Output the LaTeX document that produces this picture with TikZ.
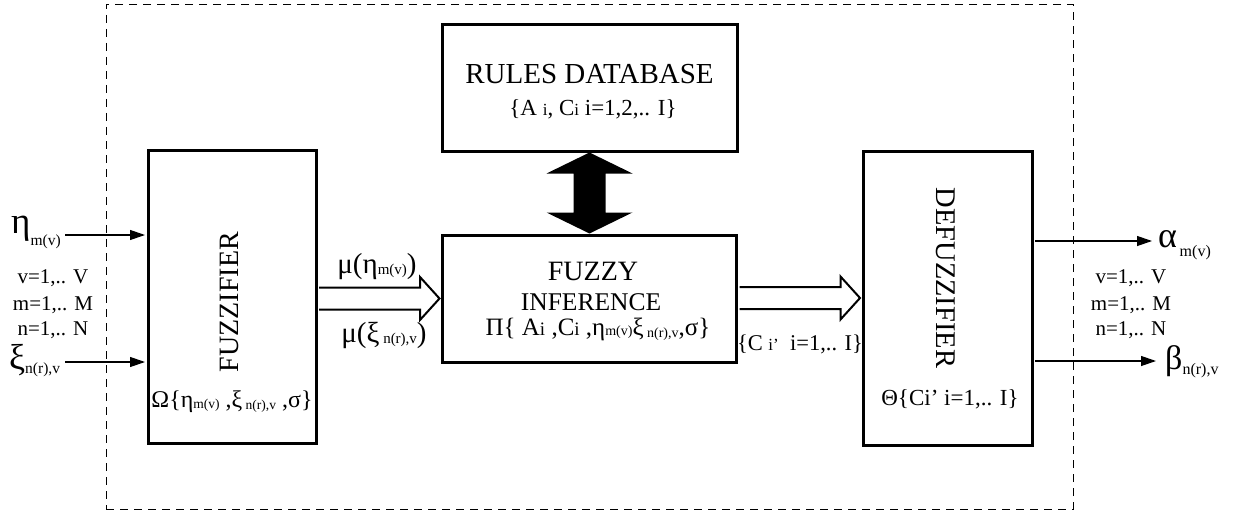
\documentclass[tikz,border=0pt]{standalone}
\usepackage{fontspec}
\setmainfont{Liberation Serif}
\usetikzlibrary{calc,arrows.meta}
\newcommand\fs[1]{\fontsize{#1}{#1}\selectfont}
\newcommand\lowsub[3]{\raisebox{-#1pt}{\fs{#2}#3}}
\begin{document}
\begin{tikzpicture}[x=1pt,y=-1pt,
 box/.style={draw,line width=3pt,inner sep=0pt},
 lbl/.style={inner sep=0pt,anchor=base},
 thinarrow/.style={line width=1.2pt,-{Triangle[length=15pt,width=10pt]}},
 hollow/.style={draw,line width=2pt,line join=miter},
 frame/.style={draw,dash pattern=on 8pt off 6pt,line width=0.9pt,inner sep=0pt}]
\useasboundingbox (0,0) rectangle (1233,511);
\node[frame,minimum width=967pt,minimum height=505pt] (frm) at (589.5,256.5) {};
% boxes
\node[box,minimum width=168pt,minimum height=293pt] (fuz) at (232,296.5) {};
\node[box,minimum width=295pt,minimum height=126pt] (rules) at (589.5,88) {};
\node[box,minimum width=294pt,minimum height=127pt] (inf) at (589.5,298.5) {};
\node[box,minimum width=169pt,minimum height=294pt] (defuz) at (947.5,298) {};
% double arrow
\fill (rules.south) -- ($(rules.south)+(43,21)$) -- ($(rules.south)+(16,21)$) -- ($(inf.north)+(16,-21)$) -- ($(inf.north)+(43,-21)$) -- (inf.north) -- ($(inf.north)+(-43,-21)$) -- ($(inf.north)+(-16,-21)$) -- ($(rules.south)+(-16,21)$) -- ($(rules.south)+(-43,21)$) -- cycle;
% hollow arrows
\draw[hollow] ($(fuz.east|-inf.west)+(1.5,-11)$) -- ($(inf.west)+(-21,-11)$) -- ($(inf.west)+(-21,-21.5)$) -- ($(inf.west)+(-1.5,0)$) -- ($(inf.west)+(-21,21.5)$) -- ($(inf.west)+(-21,11)$) -- ($(fuz.east|-inf.west)+(1.5,11)$);
\draw[hollow] ($(inf.east|-defuz.west)+(1.5,-11)$) -- ($(defuz.west)+(-21,-11)$) -- ($(defuz.west)+(-21,-21.5)$) -- ($(defuz.west)+(-1.5,0)$) -- ($(defuz.west)+(-21,21.5)$) -- ($(defuz.west)+(-21,11)$) -- ($(inf.east|-defuz.west)+(1.5,11)$);
% thin arrows
\coordinate (etaS) at (65,235);
\coordinate (xiS) at (65,362);
\coordinate (alE) at (1152,241);
\coordinate (beE) at (1156,361);
\draw[thinarrow] (etaS) -- ($(etaS -| fuz.west)+(-1.5,0)$);
\draw[thinarrow] (xiS) -- ($(xiS -| fuz.west)+(-1.5,0)$);
\draw[thinarrow] ($(alE -| defuz.east)+(1.5,0)$) -- (alE);
\draw[thinarrow] ($(beE -| defuz.east)+(1.5,0)$) -- (beE);
% outer labels
\node[lbl,anchor=base west] (eta) at (11,233) {\fs{37}η\lowsub{12}{15.5}{m(v)}};
\node[lbl,anchor=base west] (xi) at (9,369) {\fs{36}ξ\lowsub{4}{15.5}{n(r),v}};
\node[lbl,anchor=base west] (al) at (1158,247) {\fs{36}α\lowsub{9}{16}{\,m(v)}};
\node[lbl,anchor=base west] (be) at (1165,369) {\fs{34}β\lowsub{5}{16}{n(r),v}};
\node[lbl] (lv) at (53,283) {\fs{21}v=1,.. V};
\node[lbl] (lm) at (53,310) {\fs{21}m=1,.. M};
\node[lbl] (ln) at (53,335) {\fs{21}n=1,.. N};
\node[lbl] (rv) at (1131,283) {\fs{21}v=1,.. V};
\node[lbl] (rm) at (1131,310) {\fs{21}m=1,.. M};
\node[lbl] (rn) at (1131,335) {\fs{21}n=1,.. N};
% fuzzifier
\node[rotate=90,inner sep=0pt] (fuzt) at (229,302) {\fs{28}FUZZIFIER};
\node[lbl] (omega) at (232,407) {\fs{24}Ω\{η\lowsub{1}{13.5}{m(v)} ,ξ\lowsub{2}{13.5}{ n(r),v} ,σ\}};
% rules
\node[lbl] (rt) at (589.5,83) {\fs{29}RULES DATABASE};
\node[lbl] (rs) at (593,115) {\fs{23}\{A {\fs{17}i}, C{\fs{17}i} i=1,2,.. I\}};
% inference
\node[lbl] (f1) at (593,280) {\fs{28}FUZZY};
\node[lbl] (f2) at (591,310) {\fs{25.5}INFERENCE};
\node[lbl] (f3) at (598,335) {\fs{25}Π\{ A{\fs{19}i} ,C{\fs{19}i} ,η\lowsub{0}{14}{m(v)}ξ\lowsub{2}{14}{ n(r),v},σ\}};
\node[lbl] (mu1) at (377,273) {\fs{29}μ(η\lowsub{1}{15}{m(v)})};
\node[lbl] (mu2) at (384,342) {\fs{29}μ(ξ\lowsub{1}{15}{ n(r),v})};
\node[lbl] (cl) at (800,350) {\fs{22.5}\{C {\fs{17}i’}\ \ i=1,.. I\}};
% defuzzifier
\node[rotate=-90,inner sep=0pt] (dt) at (946,278) {\fs{28.5}DEFUZZIFIER};
\node[lbl] (th) at (950,405) {\fs{23}Θ\{Ci’ i=1,.. I\}};
\end{tikzpicture}
\end{document}
